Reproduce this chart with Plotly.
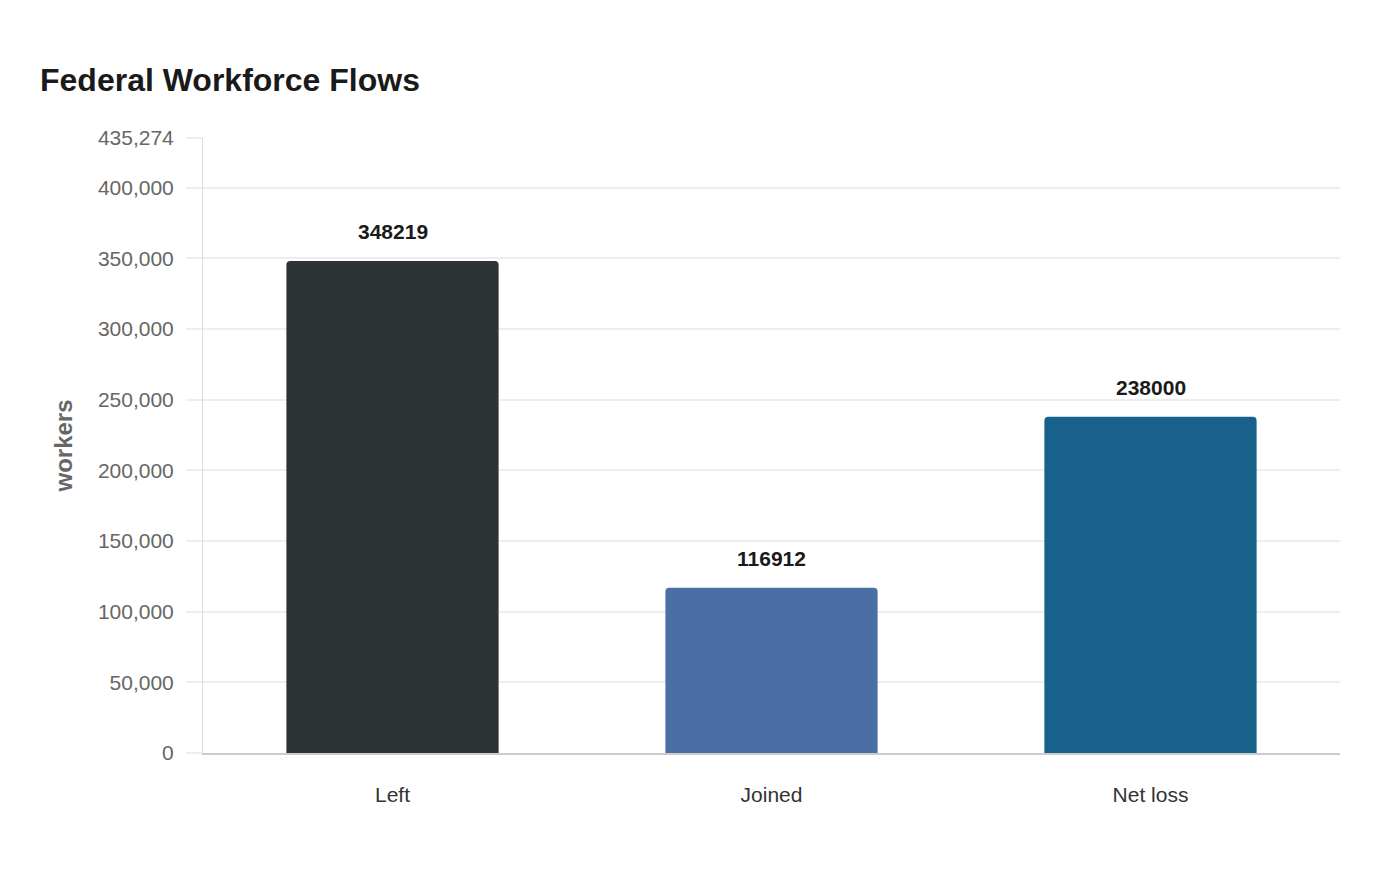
import plotly.graph_objects as go

# chart data
categories = ["Left", "Joined", "Net loss"]
workers = [348219, 116912, 238000]
bar_colors = ["#2d3436", "#4a6fa5", "#17618a"]
y_max = 435274
y_ticks = [0, 50000, 100000, 150000, 200000, 250000, 300000, 350000, 400000, y_max]

fig = go.Figure()

fig.add_trace(go.Bar(
    x=categories,
    y=workers,
    marker=dict(color=bar_colors, line=dict(width=0)),
    width=0.56,
    hoverinfo="x+y",
    showlegend=False,
))

# value labels above the bars
for cat, val in zip(categories, workers):
    fig.add_annotation(
        x=cat, y=val, text=str(val), showarrow=False,
        yanchor="bottom", yshift=16,
        font=dict(family="Liberation Sans, Arial, sans-serif", size=21, color="#1a1a1a", weight="bold"),
    )

fig.update_layout(
    width=1400, height=880,
    paper_bgcolor="white", plot_bgcolor="white",
    margin=dict(l=195, r=68, t=130, b=135),
    barcornerradius=4,
    font=dict(family="Liberation Sans, Arial, sans-serif", size=21, color="#666666"),
    title=dict(
        text="<b>Federal Workforce Flows</b>",
        font=dict(size=32, color="#1a1a1a"),
        xref="container", x=32 / 1400, xanchor="left",
        yref="container", y=1 - 72 / 880, yanchor="middle",
    ),
)

fig.update_xaxes(
    showgrid=False, showline=True, linecolor="#cccccc", linewidth=1.5,
    ticks="", ticklabelstandoff=22,
    tickfont=dict(color="#333333", size=21),
)

fig.update_yaxes(
    range=[0, y_max], tickvals=y_ticks, tickformat=",",
    showgrid=True, gridcolor="#eeeeee", gridwidth=1.5,
    showline=True, linecolor="#dddddd", linewidth=1,
    ticks="outside", ticklen=16, tickcolor="#eeeeee", tickwidth=1.5,
    ticklabelstandoff=8,
    zeroline=False,
    title=dict(text="<b>workers</b>", font=dict(size=24, color="#666666"), standoff=18),
)

fig.write_html("out.html")
